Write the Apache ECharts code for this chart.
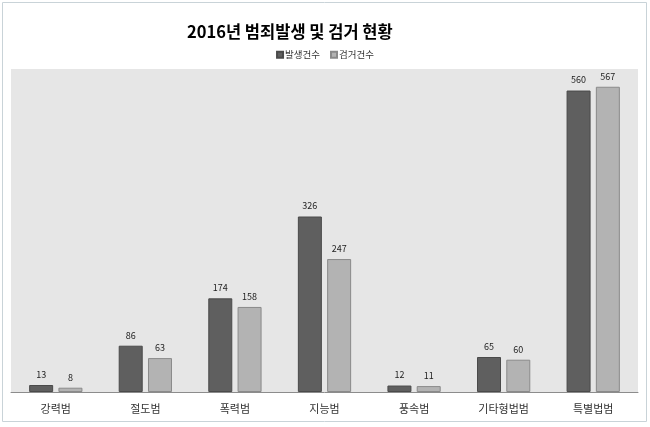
<!DOCTYPE html>
<html><head><meta charset="utf-8">
<script src="https://cdn.jsdelivr.net/npm/echarts@6/dist/echarts.min.js"></script>
<style>html,body{margin:0;padding:0;background:#fff;}#c{width:650px;height:427px;}</style>
</head><body><div id="c"></div>
<script>
const categories = ['강력범','절도범','폭력범','지능범','풍속범','기타형법범','특별법범'];
const occurred = [13, 86, 174, 326, 12, 65, 560];
const arrested = [8, 63, 158, 247, 11, 60, 567];
const seriesNames = ['발생건수','검거건수'];
const font = '"Noto Sans CJK KR", sans-serif';
const chart = echarts.init(document.getElementById('c'));
chart.setOption({
  animation: false,
  graphic: [{type:'rect', shape:{x:2.5,y:2.5,width:644,height:419}, style:{fill:'none', stroke:'#c9d3d8', lineWidth:1}, z:-1}],
  title: {text:'2016년 범죄발생 및 검거 현황', left:182, top:18, itemGap:0,
    textStyle:{fontFamily:font, fontSize:16.5, fontWeight:'bold', color:'#000'}},
  legend: {data:seriesNames, top:45, left:'center', itemWidth:6, itemHeight:6, itemGap:10, icon:'rect',
    textStyle:{fontFamily:font, fontSize:9.5, color:'#333', padding:[0,0,0,-3]}},
  grid: {left:11, right:12, top:69, bottom:35, show:true, backgroundColor:'#e6e6e6', borderWidth:0},
  xAxis: {type:'category', data:categories, axisTick:{show:false},
    axisLine:{lineStyle:{color:'#8c8c8c'}},
    axisLabel:{fontFamily:font, fontSize:11, color:'#333', margin:11}},
  yAxis: {type:'value', min:0, max:600, show:false, splitLine:{show:false}},
  series: [
    {name:seriesNames[0], type:'bar', data:occurred, barWidth:24, barGap:'22%',
      itemStyle:{color:'#5f5f5f', borderColor:'#4a4a4a', borderWidth:1},
      label:{show:true, position:'top', fontFamily:font, fontSize:9, color:'#222', distance:6}},
    {name:seriesNames[1], type:'bar', data:arrested, barWidth:24,
      itemStyle:{color:'#b3b3b3', borderColor:'#8a8a8a', borderWidth:1},
      label:{show:true, position:'top', fontFamily:font, fontSize:9, color:'#222', distance:6}}
  ]
});
</script></body></html>
